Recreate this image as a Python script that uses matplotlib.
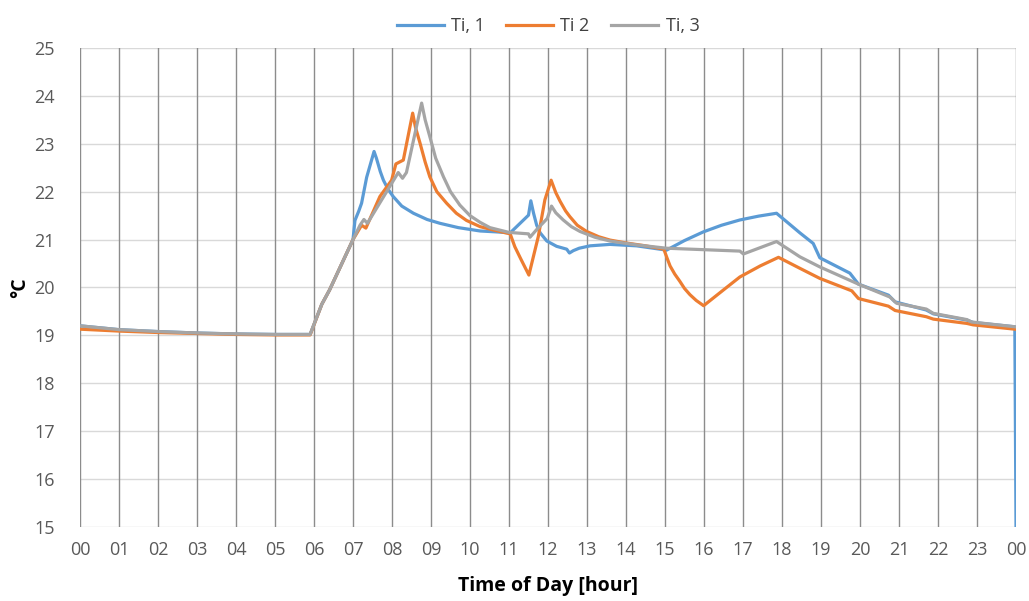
import matplotlib
matplotlib.use("Agg")
import matplotlib.pyplot as plt
from matplotlib import font_manager

# Pick a narrow sans face if present
_available = {f.name for f in font_manager.fontManager.ttflist}
FONT = [f for f in ["Liberation Sans Narrow", "Open Sans", "DejaVu Sans"] if f in _available]
plt.rcParams["font.family"] = FONT

# Indoor temperature over the day (hour, °C)
hours_1 = [0.0, 1.0, 2.0, 3.0, 4.0, 5.0, 5.9, 6.2, 6.4, 7.0, 7.05, 7.15, 7.22, 7.35, 7.54,
           7.6, 7.7, 7.78, 7.9, 8.03, 8.25, 8.55, 8.9, 9.23, 9.7, 10.26, 10.7, 11.03, 11.5,
           11.56, 11.63, 11.71, 11.8, 11.97, 12.22, 12.48, 12.55, 12.65, 12.8, 13.08, 13.59,
           14.27, 15.04, 15.5, 15.98, 16.45, 16.92, 17.4, 17.86, 18.46, 18.8, 18.97, 19.74,
           19.96, 20.73, 20.9, 21.7, 21.88, 22.74, 22.9, 23.97, 24.0]
temp_1 = [19.2, 19.12, 19.08, 19.05, 19.03, 19.02, 19.02, 19.65, 19.95, 21.0, 21.4, 21.6,
          21.76, 22.3, 22.84, 22.7, 22.42, 22.24, 22.05, 21.9, 21.7, 21.55, 21.42, 21.34,
          21.25, 21.18, 21.16, 21.14, 21.51, 21.81, 21.55, 21.3, 21.14, 20.97, 20.86, 20.8,
          20.72, 20.77, 20.82, 20.87, 20.9, 20.87, 20.78, 20.98, 21.16, 21.3, 21.41, 21.49,
          21.55, 21.14, 20.92, 20.62, 20.3, 20.07, 19.84, 19.7, 19.53, 19.45, 19.32, 19.27,
          19.18, 15.0]

hours_2 = [0.0, 1.0, 2.0, 3.0, 4.0, 5.0, 5.9, 6.2, 6.4, 7.0, 7.22, 7.33, 7.69, 7.99, 8.1,
           8.29, 8.53, 8.6, 8.72, 8.85, 8.97, 9.15, 9.4, 9.65, 9.91, 10.26, 10.6, 11.03,
           11.15, 11.3, 11.51, 11.75, 11.92, 12.08, 12.2, 12.31, 12.45, 12.56, 12.75, 12.99,
           13.3, 13.59, 14.0, 14.5, 14.97, 15.05, 15.13, 15.25, 15.38, 15.5, 15.64, 15.8,
           15.99, 16.5, 16.92, 17.44, 17.91, 18.46, 18.97, 19.79, 19.96, 20.73, 20.9, 21.7,
           21.88, 22.74, 22.9, 23.97]
temp_2 = [19.13, 19.09, 19.06, 19.04, 19.02, 19.01, 19.01, 19.65, 19.95, 21.0, 21.3, 21.24,
          21.9, 22.24, 22.58, 22.66, 23.64, 23.35, 23.01, 22.62, 22.31, 22.0, 21.76, 21.55,
          21.4, 21.27, 21.2, 21.12, 20.85, 20.6, 20.26, 21.06, 21.83, 22.24, 21.98, 21.8,
          21.6, 21.48, 21.3, 21.17, 21.06, 20.99, 20.93, 20.87, 20.8, 20.62, 20.45, 20.28,
          20.13, 19.98, 19.85, 19.73, 19.62, 19.95, 20.22, 20.45, 20.63, 20.4, 20.19, 19.93,
          19.77, 19.61, 19.52, 19.39, 19.34, 19.25, 19.22, 19.13]

hours_3 = [0.0, 1.0, 2.0, 3.0, 4.0, 5.0, 5.9, 6.2, 6.4, 7.0, 7.18, 7.28, 7.37, 8.16, 8.27,
           8.37, 8.76, 8.85, 8.97, 9.12, 9.32, 9.5, 9.74, 10.0, 10.26, 10.51, 11.0, 11.5,
           11.54, 11.71, 11.98, 12.09, 12.2, 12.39, 12.6, 12.82, 13.2, 13.59, 14.27, 15.04,
           16.92, 17.01, 17.86, 18.46, 18.8, 18.97, 19.96, 20.77, 20.94, 21.7, 21.88, 22.74,
           22.86, 23.97]
temp_3 = [19.2, 19.12, 19.08, 19.05, 19.03, 19.02, 19.02, 19.65, 19.95, 21.0, 21.3, 21.42,
          21.34, 22.4, 22.28, 22.4, 23.85, 23.5, 23.15, 22.7, 22.31, 22.0, 21.72, 21.5, 21.36,
          21.25, 21.15, 21.12, 21.05, 21.21, 21.44, 21.7, 21.56, 21.41, 21.27, 21.17, 21.05,
          20.97, 20.89, 20.82, 20.76, 20.7, 20.96, 20.64, 20.5, 20.43, 20.07, 19.8, 19.67,
          19.55, 19.46, 19.33, 19.28, 19.18]

series_labels = ["Ti, 1", "Ti 2", "Ti, 3"]
series_colors = ["#5B9BD5", "#ED7D31", "#A5A5A5"]
hour_labels = [f"{h % 24:02d}" for h in range(25)]
y_ticks = list(range(15, 26))

fig = plt.figure(figsize=(10.29, 6.01), dpi=100)
ax = fig.add_axes([80 / 1029, 1 - 527 / 601, 936 / 1029, 479 / 601])

for hx, ty, lab, col in zip([hours_1, hours_2, hours_3], [temp_1, temp_2, temp_3],
                            series_labels, series_colors):
    ax.plot(hx, ty, color=col, lw=2.3, label=lab, solid_joinstyle="round", zorder=3)

ax.set_xlim(0, 24)
ax.set_ylim(15, 25)
ax.set_xticks(range(25))
ax.set_xticklabels(hour_labels)
ax.set_yticks(y_ticks)

# Vertical hour lines darker than the horizontal temperature lines
for h in range(25):
    ax.axvline(h, color="#8C8C8C", lw=1.0, zorder=1)
for t in y_ticks:
    ax.axhline(t, color="#D9D9D9", lw=1.0, zorder=0)

for s in ax.spines.values():
    s.set_visible(False)
ax.tick_params(length=0, labelsize=13, colors="#595959", pad=10)
ax.tick_params(axis="y", pad=18)

ax.set_xlabel("Time of Day [hour]", fontsize=14, fontweight="bold", labelpad=12)
ax.set_ylabel("°C", fontsize=14, fontweight="bold", labelpad=3)

ax.legend(loc="lower center", bbox_to_anchor=(0.5, 1.0), ncol=3, frameon=False,
          fontsize=13, handlelength=2.6, columnspacing=1.2, handletextpad=0.4,
          borderaxespad=0.3, labelcolor="#404040")

fig.savefig("out.png", dpi=100)
